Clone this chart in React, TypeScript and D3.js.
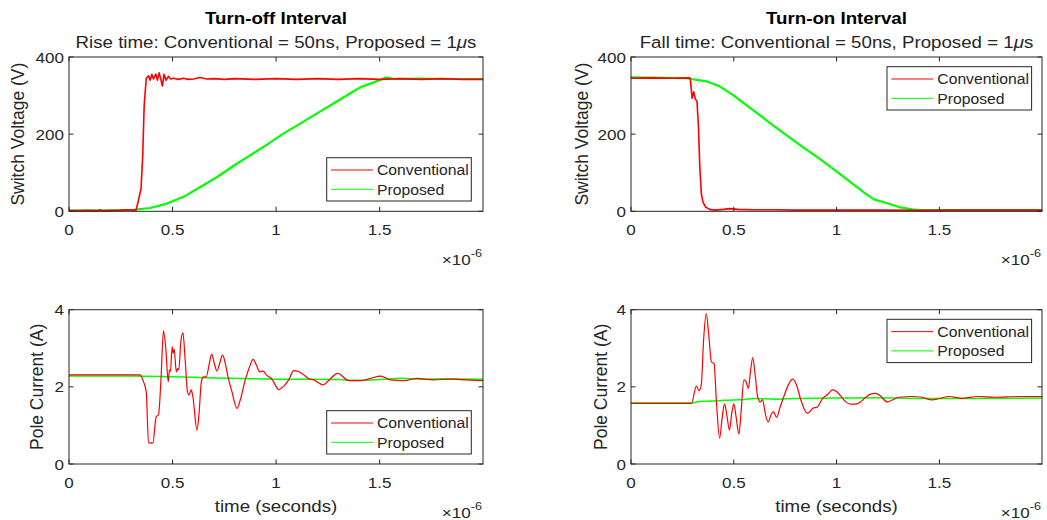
import React from 'react';
import * as d3 from 'd3';

// time in microseconds (axis shows x10^-6 s)
const xTicks = [0, 0.5, 1, 1.5];
const voltTicks = [0, 200, 400];
const currTicks = [0, 2, 4];
const seriesNames = ['Conventional', 'Proposed'];

const offVoltConv: [number, number][] = [
  [0, 2], [0.05, 2], [0.1, 2.5], [0.14, 2], [0.15, 4], [0.16, 2], [0.2, 2.5], [0.25, 3], [0.28, 4],
  [0.3, 3], [0.324, 3], [0.335, 28], [0.348, 59], [0.356, 145], [0.363, 275], [0.373, 345],
  [0.384, 351], [0.392, 340], [0.4, 355], [0.408, 343], [0.419, 356], [0.427, 340], [0.435, 359],
  [0.443, 343], [0.451, 325], [0.459, 355], [0.469, 340], [0.48, 350], [0.491, 343], [0.504, 345],
  [0.528, 342], [0.552, 345], [0.577, 342], [0.601, 343], [0.633, 347], [0.665, 343], [0.7, 344],
  [0.75, 342], [0.8, 344], [0.9, 342], [1.0, 344], [1.1, 342], [1.2, 344], [1.3, 342], [1.4, 344],
  [1.5, 342], [1.6, 344], [1.7, 342], [1.8, 344], [1.9, 342], [2.0, 342],
];
const offVoltProp: [number, number][] = [
  [0, 2], [0.2, 2], [0.311, 4], [0.392, 8.6], [0.473, 20], [0.553, 37.5], [0.634, 63], [0.715, 89],
  [0.795, 118], [0.876, 145.5], [0.956, 173], [1.037, 202], [1.118, 228], [1.198, 254], [1.279, 280],
  [1.359, 306], [1.408, 322], [1.456, 331], [1.505, 341], [1.53, 347], [1.569, 343], [1.7, 344],
  [1.8, 343], [2.0, 343],
];
const onVoltConv: [number, number][] = [
  [0, 345], [0.1, 346], [0.2, 345], [0.286, 346], [0.289, 341], [0.297, 293], [0.305, 310],
  [0.313, 291], [0.321, 285], [0.328, 219], [0.334, 124], [0.342, 46], [0.35, 24], [0.363, 11],
  [0.382, 5], [0.407, 3], [0.45, 5], [0.48, 7], [0.52, 5], [0.6, 4], [0.7, 4], [0.8, 3], [1.0, 3],
  [1.2, 3], [1.4, 2.5], [1.6, 3], [1.8, 3], [2.0, 3],
];
const onVoltProp: [number, number][] = [
  [0, 347], [0.27, 345], [0.367, 337], [0.431, 324], [0.495, 302], [0.592, 263], [0.673, 230],
  [0.754, 198], [0.834, 167], [0.915, 137], [0.996, 105], [1.077, 72], [1.141, 46], [1.182, 31],
  [1.238, 22], [1.303, 11], [1.367, 5], [1.4, 3], [1.6, 3], [1.8, 3], [2.0, 3],
];
const offCurrConv: [number, number][] = [
  [0, 2.31], [0.343, 2.31], [0.36, 2.13], [0.373, 1.87], [0.384, 0.55], [0.405, 0.55], [0.421, 1.23],
  [0.432, 1.27], [0.444, 2.18], [0.456, 3.45], [0.468, 2.95], [0.479, 2.13], [0.485, 2.44], [0.49, 2.4],
  [0.498, 3.04], [0.503, 2.87], [0.508, 2.98], [0.518, 2.39], [0.524, 2.47], [0.53, 2.44], [0.54, 3.17],
  [0.55, 3.4], [0.561, 2.69], [0.572, 1.87], [0.58, 1.79], [0.59, 1.92], [0.598, 1.75], [0.618, 0.88],
  [0.628, 1.31], [0.639, 2.13], [0.65, 2.26], [0.663, 2.26], [0.676, 2.56], [0.689, 2.85], [0.702, 2.6],
  [0.714, 2.41], [0.727, 2.6], [0.742, 2.82], [0.755, 2.6], [0.768, 2.26], [0.787, 1.87], [0.811, 1.44],
  [0.827, 1.66], [0.851, 2.18], [0.872, 2.52], [0.889, 2.71], [0.905, 2.56], [0.921, 2.39], [0.937, 2.41],
  [0.953, 2.31], [0.981, 2.19], [1.013, 1.93], [1.037, 2.02], [1.061, 2.18], [1.085, 2.42], [1.11, 2.39],
  [1.134, 2.31], [1.158, 2.21], [1.182, 2.18], [1.206, 2.1], [1.227, 2.05], [1.247, 2.13], [1.298, 2.35],
  [1.351, 2.16], [1.41, 2.16], [1.455, 2.22], [1.505, 2.28], [1.553, 2.18], [1.618, 2.16], [1.68, 2.22],
  [1.76, 2.18], [1.84, 2.2], [1.92, 2.18], [2.0, 2.16],
];
const offCurrProp: [number, number][] = [
  [0, 2.28], [0.3, 2.28], [0.5, 2.26], [0.7, 2.23], [1.0, 2.2], [1.3, 2.19], [1.4, 2.17], [1.5, 2.19],
  [1.6, 2.22], [1.7, 2.2], [1.8, 2.21], [2.0, 2.2],
];
const onCurrConv: [number, number][] = [
  [0, 1.57], [0.294, 1.57], [0.318, 2.02], [0.331, 1.9], [0.342, 2.06], [0.353, 3.21], [0.366, 3.9],
  [0.379, 3.3], [0.391, 2.65], [0.404, 2.6], [0.415, 1.66], [0.431, 0.67], [0.444, 1.23], [0.455, 1.56],
  [0.466, 1.27], [0.479, 0.88], [0.49, 1.31], [0.5, 1.56], [0.511, 1.23], [0.525, 0.78], [0.536, 1.4],
  [0.549, 2.18], [0.56, 2.13], [0.571, 1.96], [0.581, 2.39], [0.592, 2.76], [0.604, 2.3], [0.616, 1.74],
  [0.628, 1.61], [0.64, 1.66], [0.653, 1.31], [0.667, 1.09], [0.681, 1.27], [0.692, 1.36], [0.709, 1.21],
  [0.725, 1.47], [0.746, 1.79], [0.767, 2.07], [0.786, 2.2], [0.805, 2.05], [0.826, 1.66], [0.859, 1.31],
  [0.883, 1.44], [0.907, 1.48], [0.932, 1.7], [0.956, 1.8], [0.98, 1.92], [1.004, 1.86], [1.025, 1.73],
  [1.045, 1.61], [1.069, 1.55], [1.093, 1.55], [1.117, 1.61], [1.142, 1.73], [1.165, 1.81], [1.19, 1.83],
  [1.214, 1.76], [1.246, 1.61], [1.303, 1.73], [1.367, 1.75], [1.416, 1.73], [1.464, 1.66], [1.545, 1.75],
  [1.61, 1.7], [1.69, 1.75], [1.77, 1.73], [1.88, 1.75], [2.0, 1.75],
];
const onCurrProp: [number, number][] = [
  [0, 1.58], [0.3, 1.58], [0.33, 1.62], [0.4, 1.63], [0.45, 1.65], [0.55, 1.67], [0.6, 1.7], [0.7, 1.68],
  [0.8, 1.7], [1.0, 1.71], [1.2, 1.72], [1.4, 1.7], [1.6, 1.7], [2.0, 1.71],
];

const INK = '#262626';
const FONT = '"Liberation Sans", Arial, sans-serif';
const SX = 1.1; // source text is slightly stretched horizontally

type PanelProps = {
  left: number; top: number; width: number; height: number;
  yMax: number; yTicks: number[]; ylabel: string; ylabelX: number;
  conv: [number, number][]; prop: [number, number][];
  legend: { x: number; y: number };
  thick: [number, number];
  smooth?: boolean;
  title?: string; subtitle?: string; xlabel?: string;
};

const Txt = ({ x, y, size, anchor = 'middle', bold = false, children }: any) => (
  <text transform={`translate(${x},${y}) scale(${SX},1)`} fontSize={size} textAnchor={anchor}
    fontWeight={bold ? 'bold' : 'normal'} fill={bold ? '#000' : INK}>{children}</text>
);

const Panel = (p: PanelProps) => {
  const x = d3.scaleLinear().domain([0, 1.999]).range([p.left, p.left + p.width]);
  const y = d3.scaleLinear().domain([0, p.yMax]).range([p.top + p.height, p.top]);
  const line = d3.line<[number, number]>().x(d => x(d[0])).y(d => y(d[1]))
    .curve(p.smooth ? d3.curveMonotoneX : d3.curveLinear);
  const bottom = p.top + p.height;
  const right = p.left + p.width;
  const cx = p.left + p.width / 2;
  const tl = 4.5;
  return (
    <g>
      {p.title && <Txt x={cx} y={p.top - 33} size={17} bold>{p.title}</Txt>}
      {p.subtitle && (
        <Txt x={cx} y={p.top - 9.5} size={17}>
          {p.subtitle}<tspan fontStyle="italic">μ</tspan>s
        </Txt>
      )}
      <path d={line(p.prop) || ''} fill="none" stroke="#00ff00" strokeWidth={p.thick[1]} strokeLinejoin="round" />
      <path d={line(p.conv) || ''} fill="none" stroke="#ff0000" strokeWidth={p.thick[0]} strokeLinejoin="round" />
      <rect x={p.left} y={p.top} width={p.width} height={p.height} fill="none" stroke={INK} strokeWidth={1} />
      {xTicks.map(t => (
        <g key={'x' + t}>
          <line x1={x(t)} x2={x(t)} y1={bottom} y2={bottom - tl} stroke={INK} />
          <line x1={x(t)} x2={x(t)} y1={p.top} y2={p.top + tl} stroke={INK} />
          <Txt x={x(t)} y={bottom + 23.5} size={15.5}>{String(t)}</Txt>
        </g>
      ))}
      {p.yTicks.map(t => (
        <g key={'y' + t}>
          <line x1={p.left} x2={p.left + tl} y1={y(t)} y2={y(t)} stroke={INK} />
          <line x1={right} x2={right - tl} y1={y(t)} y2={y(t)} stroke={INK} />
          <Txt x={p.left - 5} y={y(t) + 5.5} size={15.5} anchor="end">{String(t)}</Txt>
        </g>
      ))}
      <Txt x={right - 1} y={bottom + 54} size={15.5} anchor="end">
        ×10<tspan dy={-8} fontSize={11.5}>-6</tspan>
      </Txt>
      {p.xlabel && <Txt x={cx} y={bottom + 48} size={17}>{p.xlabel}</Txt>}
      <text transform={`translate(${p.ylabelX},${p.top + p.height / 2}) rotate(-90) scale(1,${SX})`}
        textAnchor="middle" fontSize={17.5} fill={INK}>{p.ylabel}</text>
      <g transform={`translate(${p.legend.x},${p.legend.y})`}>
        <rect x={0} y={0} width={144.6} height={43.3} fill="#fff" stroke={INK} strokeWidth={1} />
        {seriesNames.map((name, i) => (
          <g key={name}>
            <line x1={4.3} x2={46.3} y1={12.3 + i * 19.3} y2={12.3 + i * 19.3}
              stroke={i === 0 ? '#ff0000' : '#00ff00'} strokeWidth={1} />
            <Txt x={50.3} y={12.3 + i * 19.3 + 5.2} size={14.3} anchor="start">{name}</Txt>
          </g>
        ))}
      </g>
    </g>
  );
};

export default function App() {
  const L = 69, R = 631, W1 = 414, W2 = 411;
  const T1 = 57, T2 = 309.7, H = 154.3;
  return (
    <svg width={1047} height={520} style={{ position: 'absolute', left: 0, top: 0, background: '#fff' }}
      fontFamily={FONT}>
      <rect width={1047} height={520} fill="#fff" />
      <Panel left={L} top={T1} width={W1} height={H} yMax={400} yTicks={voltTicks}
        ylabel="Switch Voltage (V)" ylabelX={24} conv={offVoltConv} prop={offVoltProp}
        legend={{ x: 326.7, y: 157.7 }} thick={[1.6, 2.2]}
        title="Turn-off Interval" subtitle="Rise time: Conventional = 50ns, Proposed = 1" />
      <Panel left={R} top={T1} width={W2} height={H} yMax={400} yTicks={voltTicks}
        ylabel="Switch Voltage (V)" ylabelX={588} conv={onVoltConv} prop={onVoltProp}
        legend={{ x: 887, y: 66.7 }} thick={[1.6, 2.2]}
        title="Turn-on Interval" subtitle="Fall time: Conventional = 50ns, Proposed = 1" />
      <Panel left={L} top={T2} width={W1} height={H} yMax={4} yTicks={currTicks}
        ylabel="Pole Current (A)" ylabelX={43} conv={offCurrConv} prop={offCurrProp} smooth
        legend={{ x: 326.7, y: 410.7 }} thick={[1.2, 1.5]} xlabel="time (seconds)" />
      <Panel left={R} top={T2} width={W2} height={H} yMax={4} yTicks={currTicks}
        ylabel="Pole Current (A)" ylabelX={607} conv={onCurrConv} prop={onCurrProp} smooth
        legend={{ x: 887, y: 319.3 }} thick={[1.2, 1.5]} xlabel="time (seconds)" />
    </svg>
  );
}
